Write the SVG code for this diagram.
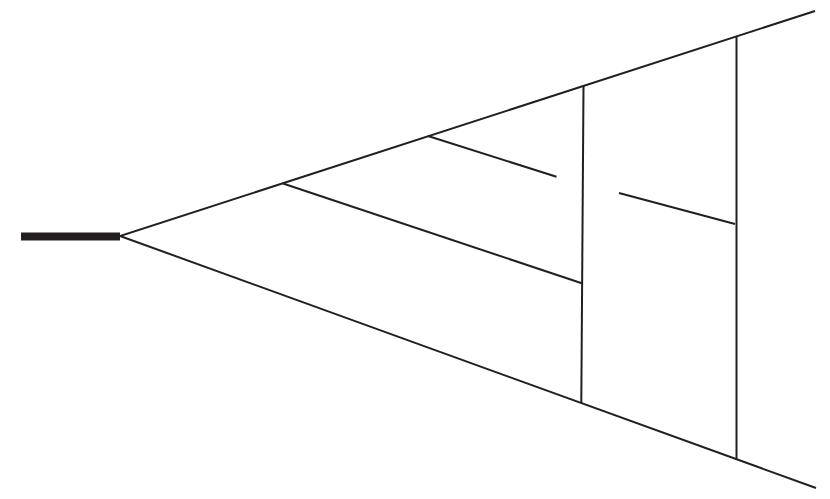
<svg xmlns="http://www.w3.org/2000/svg" width="830" height="499" viewBox="0 0 830 499">
<style>
.l{stroke:#231f20;stroke-width:2;fill:none;stroke-linecap:butt}
.t{stroke:#231f20;stroke-width:8;fill:none}
</style>
<rect width="830" height="499" fill="#ffffff"/>
<g id="connectors">
<line class="t" x1="21" y1="236.5" x2="120" y2="236.5"/>
<polyline class="l" points="815,11 120,236 816,488"/>
<line class="l" x1="583.5" y1="86" x2="581.3" y2="403"/>
<line class="l" x1="736.5" y1="36.5" x2="736.5" y2="459"/>
<line class="l" x1="283" y1="183.5" x2="582.5" y2="283.5"/>
<line class="l" x1="428" y1="136" x2="556.5" y2="176.7"/>
<line class="l" x1="619" y1="193" x2="735" y2="224"/>
</g>
</svg>
